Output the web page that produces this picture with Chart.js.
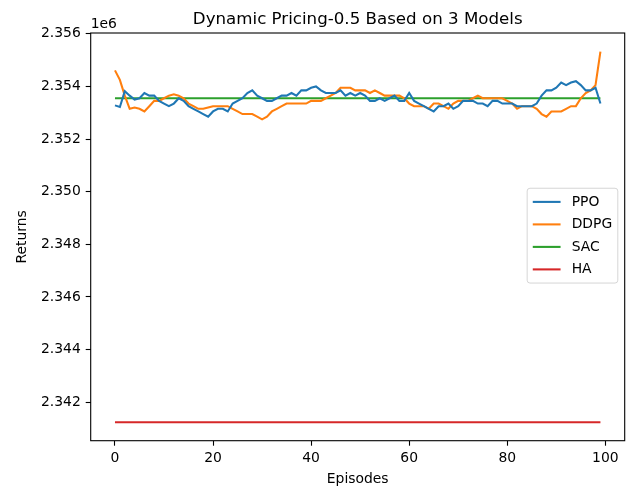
<!DOCTYPE html>
<html><head><meta charset="utf-8">
<script src="https://cdn.jsdelivr.net/npm/chart.js@4.4.0/dist/chart.umd.min.js"></script>
<style>html,body{margin:0;padding:0;background:#fff;} #wrap{width:629px;height:489px;}</style>
</head><body><div id="wrap"><canvas id="c" width="629" height="489"></canvas></div>
<script>
// Values in millions (axis offset "1e6")
const episodes = Array.from({length: 100}, (_, i) => i);
const ppoReturns = [
2.35328,2.35322,2.35382,2.35365,2.3535,2.35355,2.35375,2.35365,2.35365,2.35345,
2.35335,2.35325,2.35335,2.35355,2.35345,2.35325,2.35315,2.35305,2.35295,2.35285,
2.35305,2.35315,2.35315,2.35305,2.35335,2.35345,2.35355,2.35375,2.35385,2.35365,
2.35355,2.35345,2.35345,2.35355,2.35365,2.35365,2.35375,2.35365,2.35385,2.35385,
2.35395,2.354,2.35385,2.35375,2.35375,2.35375,2.35385,2.35365,2.35375,2.35365,
2.35375,2.35365,2.35345,2.35345,2.35355,2.35345,2.35355,2.35365,2.35345,2.35345,
2.35375,2.35345,2.35335,2.35325,2.35315,2.35305,2.35325,2.35325,2.35335,2.35315,
2.35325,2.35345,2.35345,2.35345,2.35335,2.35335,2.35325,2.35345,2.35345,2.35335,
2.35335,2.35335,2.35325,2.35325,2.35325,2.35325,2.35335,2.35365,2.35385,2.35385,
2.35395,2.35415,2.35405,2.35415,2.3542,2.35405,2.35385,2.35385,2.35395,2.35335];
const ddpgReturns = [
2.35461,2.35425,2.35365,2.35315,2.3532,2.35315,2.35305,2.35325,2.35345,2.35345,
2.35355,2.35365,2.3537,2.35365,2.35355,2.35335,2.35325,2.35315,2.35315,2.3532,
2.35325,2.35325,2.35325,2.35325,2.35315,2.35305,2.35295,2.35295,2.35295,2.35285,
2.35275,2.35285,2.35305,2.35315,2.35325,2.35335,2.35335,2.35335,2.35335,2.35335,
2.35345,2.35345,2.35345,2.35355,2.35365,2.35375,2.35395,2.35395,2.35395,2.35385,
2.35385,2.35385,2.35375,2.35385,2.35375,2.35365,2.35365,2.35365,2.35365,2.35355,
2.35335,2.35325,2.35325,2.35325,2.35315,2.35335,2.35335,2.35325,2.35315,2.35335,
2.35345,2.35345,2.35345,2.35355,2.35365,2.35355,2.35355,2.35355,2.35355,2.35355,
2.35345,2.35335,2.35315,2.35325,2.35325,2.35325,2.35315,2.35295,2.35285,2.35305,
2.35305,2.35305,2.35315,2.35325,2.35325,2.35355,2.35375,2.35385,2.35405,2.35532];
const sacReturns = [
2.35355,2.35355,2.35355,2.35355,2.35355,2.35355,2.35355,2.35355,2.35355,2.35355,
2.35355,2.35355,2.35355,2.35355,2.35355,2.35355,2.35355,2.35355,2.35355,2.35355,
2.35355,2.35355,2.35355,2.35355,2.35355,2.35355,2.35355,2.35355,2.35355,2.35355,
2.35355,2.35355,2.35355,2.35355,2.35355,2.35355,2.35355,2.35355,2.35355,2.35355,
2.35355,2.35355,2.35355,2.35355,2.35355,2.35355,2.35355,2.35355,2.35355,2.35355,
2.35355,2.35355,2.35355,2.35355,2.35355,2.35355,2.35355,2.35355,2.35355,2.35355,
2.35355,2.35355,2.35355,2.35355,2.35355,2.35355,2.35355,2.35355,2.35355,2.35355,
2.35355,2.35355,2.35355,2.35355,2.35355,2.35355,2.35355,2.35355,2.35355,2.35355,
2.35355,2.35355,2.35355,2.35355,2.35355,2.35355,2.35355,2.35355,2.35355,2.35355,
2.35355,2.35355,2.35355,2.35355,2.35355,2.35355,2.35355,2.35355,2.35355,2.35355];
const haReturns = [
2.34124,2.34124,2.34124,2.34124,2.34124,2.34124,2.34124,2.34124,2.34124,2.34124,
2.34124,2.34124,2.34124,2.34124,2.34124,2.34124,2.34124,2.34124,2.34124,2.34124,
2.34124,2.34124,2.34124,2.34124,2.34124,2.34124,2.34124,2.34124,2.34124,2.34124,
2.34124,2.34124,2.34124,2.34124,2.34124,2.34124,2.34124,2.34124,2.34124,2.34124,
2.34124,2.34124,2.34124,2.34124,2.34124,2.34124,2.34124,2.34124,2.34124,2.34124,
2.34124,2.34124,2.34124,2.34124,2.34124,2.34124,2.34124,2.34124,2.34124,2.34124,
2.34124,2.34124,2.34124,2.34124,2.34124,2.34124,2.34124,2.34124,2.34124,2.34124,
2.34124,2.34124,2.34124,2.34124,2.34124,2.34124,2.34124,2.34124,2.34124,2.34124,
2.34124,2.34124,2.34124,2.34124,2.34124,2.34124,2.34124,2.34124,2.34124,2.34124,
2.34124,2.34124,2.34124,2.34124,2.34124,2.34124,2.34124,2.34124,2.34124,2.34124];
const seriesNames = ['PPO', 'DDPG', 'SAC', 'HA'];
const xTickValues = [0, 20, 40, 60, 80, 100];
const yTickValues = [2.342, 2.344, 2.346, 2.348, 2.350, 2.352, 2.354, 2.356];
const titleText = 'Dynamic Pricing-0.5 Based on 3 Models';
const offsetText = '1e6';

const FONT = "'DejaVu Sans', sans-serif";
const FS = 13.9;
Chart.defaults.font.family = FONT;
Chart.defaults.color = '#000';

const colors = ['#1f77b4', '#ff7f0e', '#2ca02c', '#d62728'];
const allSeries = [ppoReturns, ddpgReturns, sacReturns, haReturns];

const mplDecor = {
  id: 'mplDecor',
  afterDatasetsDraw(chart) {
    const {ctx, chartArea: a} = chart;
    ctx.save();
    // spines
    ctx.strokeStyle = '#000';
    ctx.lineWidth = 1.1;
    ctx.strokeRect(a.left, a.top, a.right - a.left, a.bottom - a.top);
    // offset text
    ctx.font = FS + 'px ' + FONT;
    ctx.fillStyle = '#000';
    ctx.textAlign = 'left';
    ctx.textBaseline = 'alphabetic';
    ctx.fillText(offsetText, a.left, a.top - 5);
    // legend (center right)
    const ds = chart.data.datasets;
    const pad = 5.6, handle = 27.8, gap = 11.1, rowH = 22.5;
    let tw = 0;
    ds.forEach(d => { tw = Math.max(tw, ctx.measureText(d.label).width); });
    const w = pad + handle + gap + tw + pad;
    const h = rowH * ds.length + 2 * pad - 6.4;
    const right = a.right - 6.9;
    const left = right - w;
    const cy = (a.top + a.bottom) / 2 - 1.2;
    const top = cy - h / 2;
    const r = 2.8;
    ctx.beginPath();
    ctx.moveTo(left + r, top);
    ctx.lineTo(left + w - r, top);
    ctx.arcTo(left + w, top, left + w, top + r, r);
    ctx.lineTo(left + w, top + h - r);
    ctx.arcTo(left + w, top + h, left + w - r, top + h, r);
    ctx.lineTo(left + r, top + h);
    ctx.arcTo(left, top + h, left, top + h - r, r);
    ctx.lineTo(left, top + r);
    ctx.arcTo(left, top, left + r, top, r);
    ctx.closePath();
    ctx.fillStyle = 'rgba(255,255,255,0.8)';
    ctx.fill();
    ctx.strokeStyle = 'rgba(204,204,204,0.8)';
    ctx.lineWidth = 1;
    ctx.stroke();
    ds.forEach((d, i) => {
      const y = cy + (i - (ds.length - 1) / 2) * rowH;
      ctx.strokeStyle = d.borderColor;
      ctx.lineWidth = 2.08;
      ctx.beginPath();
      ctx.moveTo(left + pad, y);
      ctx.lineTo(left + pad + handle, y);
      ctx.stroke();
      ctx.fillStyle = '#000';
      ctx.textBaseline = 'middle';
      ctx.fillText(d.label, left + pad + handle + gap, y);
    });
    ctx.restore();
  }
};

new Chart(document.getElementById('c'), {
  type: 'line',
  data: {
    labels: episodes,
    datasets: seriesNames.map((n, i) => ({
      label: n,
      data: allSeries[i],
      borderColor: colors[i],
      backgroundColor: colors[i],
      borderWidth: 2.08,
      pointRadius: 0,
      tension: 0,
      fill: false
    }))
  },
  options: {
    responsive: false,
    animation: false,
    devicePixelRatio: 1,
    layout: {padding: {left: 0, right: 4.3, top: 0, bottom: 0}},
    plugins: {
      legend: {display: false},
      tooltip: {enabled: false},
      title: {
        display: true, text: titleText, fullSize: false, align: 'center',
        color: '#000', font: {size: 16.67, weight: 'normal', family: FONT},
        padding: {top: 10, bottom: 3}
      }
    },
    scales: {
      x: {
        type: 'linear', min: -4.95, max: 103.95,
        afterBuildTicks: s => { s.ticks = xTickValues.map(v => ({value: v})); },
        afterFit: s => { s.height = 48.3; },
        ticks: {color: '#000', font: {size: FS}, padding: 4, maxRotation: 0, autoSkip: false,
          callback: v => String(v)},
        grid: {drawOnChartArea: false, drawTicks: true, tickLength: 5, tickColor: '#000', tickWidth: 1.1},
        border: {display: false},
        title: {display: true, text: 'Episodes', color: '#000', font: {size: FS}, padding: {top: 0, bottom: 1}}
      },
      y: {
        type: 'linear', min: 2.34054, max: 2.35603,
        afterBuildTicks: s => { s.ticks = yTickValues.map(v => ({value: v})); },
        afterFit: s => { s.width = 90.7; },
        ticks: {color: '#000', font: {size: FS}, padding: 4.9, autoSkip: false,
          callback: v => Number(v).toFixed(3)},
        grid: {drawOnChartArea: false, drawTicks: true, tickLength: 5, tickColor: '#000', tickWidth: 1.1},
        border: {display: false},
        title: {display: true, text: 'Returns', color: '#000', font: {size: FS}, padding: {top: 14, bottom: 0}}
      }
    }
  },
  plugins: [mplDecor]
});
</script>
</body></html>
